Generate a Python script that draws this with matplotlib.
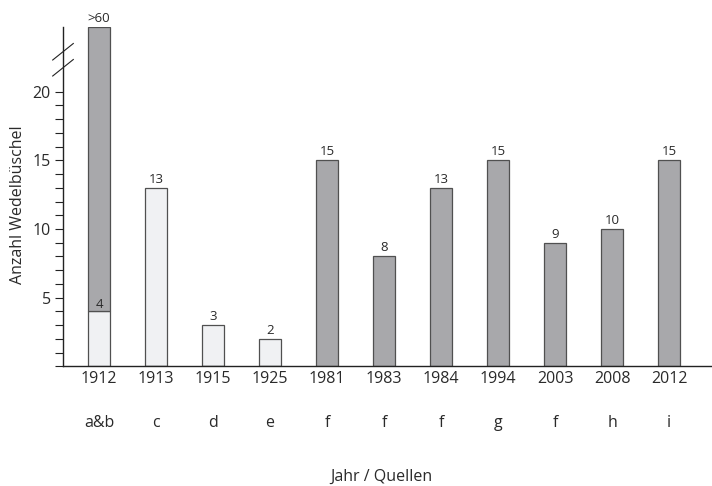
import numpy as np
import matplotlib
matplotlib.use('Agg')
import matplotlib.pyplot as plt

years = ['1912', '1913', '1915', '1925', '1981', '1983', '1984', '1994', '2003', '2008', '2012']
sources = ['a&b', 'c', 'd', 'e', 'f', 'f', 'f', 'g', 'f', 'h', 'i']
light_values = [4, 13, 3, 2, 0, 0, 0, 0, 0, 0, 0]
dark_values = [60, 0, 0, 0, 15, 8, 13, 15, 9, 10, 15]
bar_labels = ['>60', '13', '3', '2', '15', '8', '13', '15', '9', '10', '15']
inner_labels = ['4', '', '', '', '', '', '', '', '', '', '']

axis_cap = 24.7  # the y axis is broken above 20

plt.rcParams['font.family'] = ['Open Sans', 'DejaVu Sans']
text_col = '#2a2a2a'
light_col = '#f0f1f3'
dark_col = '#a8a8ab'
edge_col = '#505050'

fig = plt.figure(figsize=(7.12, 4.86), dpi=100)
ax = fig.add_axes([63 / 712, 119.6 / 486, 1 - 63 / 712, 339.4 / 486])

x = np.arange(len(years))
light = np.array(light_values, dtype=float)
dark = np.array(dark_values, dtype=float)
dark_drawn = np.where(dark > 0, np.clip(dark - light, 0, axis_cap - light), 0)
width = 0.37

ax.bar(x, light, width, color=light_col, edgecolor=edge_col, linewidth=0.9, zorder=2)
ax.bar(x, dark_drawn, width, bottom=np.where(dark > light, light, 0),
       color=dark_col, edgecolor=edge_col, linewidth=0.9, zorder=2)

for i in range(len(years)):
    top = min(max(light[i], dark[i]), axis_cap)
    ax.annotate(bar_labels[i], (x[i], top), xytext=(0, 1.5), textcoords='offset points',
                ha='center', va='bottom', fontsize=9.5, color=text_col, annotation_clip=False)
    if inner_labels[i]:
        ax.annotate(inner_labels[i], (x[i], light[i]), xytext=(0, 0), textcoords='offset points',
                    ha='center', va='bottom', fontsize=9.5, color=text_col)
    ax.annotate(years[i], (x[i], 0), xycoords=('data', 'axes fraction'), xytext=(0, -9),
                textcoords='offset points', ha='center', va='center', fontsize=11.5, color=text_col)
    ax.annotate(sources[i], (x[i], 0), xycoords=('data', 'axes fraction'), xytext=(0, -41),
                textcoords='offset points', ha='center', va='center', fontsize=11.5, color=text_col)

ax.set_xlim(-0.632, 10.754)
ax.set_ylim(0, axis_cap)
ax.set_xticks([])
ax.set_yticks([5, 10, 15, 20])
ax.set_yticks(np.arange(0, 21), minor=True)
ax.tick_params(axis='y', which='both', direction='out', length=5.8, width=0.8,
               colors='#222222', labelcolor=text_col, labelsize=11.5, pad=3)
for s in ['top', 'right']:
    ax.spines[s].set_visible(False)
for s in ['left', 'bottom']:
    ax.spines[s].set_color('#222222')
    ax.spines[s].set_linewidth(1.0)

# break marks on the y axis
for yb in [60, 76]:
    fig.add_artist(plt.Line2D([52.7 / 712, 73.3 / 712], [1 - yb / 486, 1 - (yb - 16.5) / 486],
                              color='#222222', linewidth=0.8))

fig.text(18 / 712, 1 - 205 / 486, 'Anzahl Wedelbüschel', rotation=90, ha='center', va='center',
         fontsize=11.5, color=text_col)
fig.text(381 / 712, 1 - 477 / 486, 'Jahr / Quellen', ha='center', va='center',
         fontsize=11.5, color=text_col)

fig.savefig('out.png', dpi=100)
